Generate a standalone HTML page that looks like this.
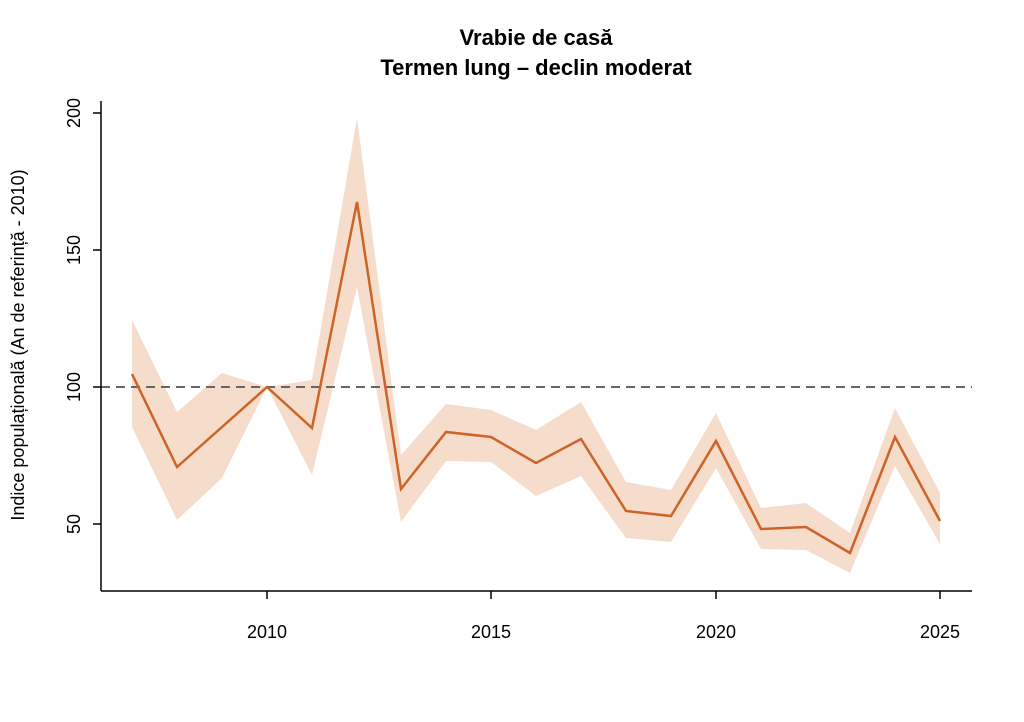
<!DOCTYPE html>
<html><head><meta charset="utf-8"><style>body{margin:0;background:#fff}</style></head><body>
<svg width="1024" height="717" xmlns="http://www.w3.org/2000/svg" font-family="Liberation Sans, sans-serif">
<rect width="1024" height="717" fill="#fff"/>
<text x="536" y="45" text-anchor="middle" font-size="22" font-weight="bold">Vrabie de casă</text>
<text x="536" y="75" text-anchor="middle" font-size="22" font-weight="bold">Termen lung – declin moderat</text>
<polygon fill="#f6dccb" points="132,320 177,412 222,373 267,387 312,380 357,118 401,455 446,404 491,410 536,430 581,402 626,482 671,490 716,413 761,508 806,503 850,533 895,408 940,493 940,544 895,466 850,573 806,550 761,549 716,468 671,542 626,538 581,476 536,496 491,462 446,461 401,522 357,287 312,475 267,387 222,478 177,520 132,427"/>
<line x1="101" y1="387" x2="972" y2="387" stroke="#666" stroke-width="2" stroke-dasharray="9,6"/>
<polyline fill="none" stroke="#cc6428" stroke-width="2.5" points="132,374 177,467 222,427 267,387 312,428 357,202 401,489 446,432 491,437 536,463 581,439 626,511 671,516 716,441 761,529 806,527 850,553 895,437 940,521"/>
<g stroke="#000" stroke-width="1.5">
<line x1="101" y1="101" x2="101" y2="591"/><line x1="101" y1="591" x2="972" y2="591"/>
<line x1="93" y1="113" x2="101" y2="113"/><line x1="93" y1="250" x2="101" y2="250"/><line x1="93" y1="387" x2="101" y2="387"/><line x1="93" y1="524" x2="101" y2="524"/>
<line x1="267" y1="591" x2="267" y2="599"/><line x1="491" y1="591" x2="491" y2="599"/><line x1="716" y1="591" x2="716" y2="599"/><line x1="940" y1="591" x2="940" y2="599"/>
</g>
<g font-size="18" text-anchor="middle">
<text x="267" y="638">2010</text><text x="491" y="638">2015</text><text x="716" y="638">2020</text><text x="940" y="638">2025</text>
<text transform="translate(80,113) rotate(-90)">200</text>
<text transform="translate(80,250) rotate(-90)">150</text>
<text transform="translate(80,387) rotate(-90)">100</text>
<text transform="translate(80,524) rotate(-90)">50</text>
<text transform="translate(24,345) rotate(-90)">Indice populațională (An de referință - 2010)</text>
</g>
</svg>
</body></html>
